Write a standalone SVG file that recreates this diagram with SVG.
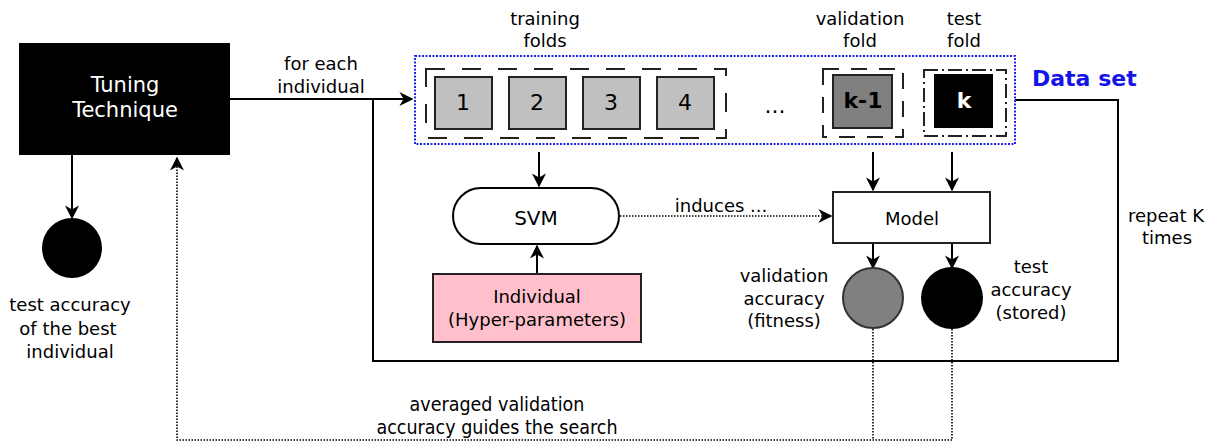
<svg xmlns="http://www.w3.org/2000/svg" width="1217" height="445" viewBox="0 0 1217 445">
<style>
text{font-family:"DejaVu Sans","Liberation Sans",sans-serif;font-size:18px;fill:#000;text-anchor:middle}
.w{fill:#fff}
.big{font-size:20px}
.tt{font-size:21px}
.dig{font-size:22px}
.b{font-weight:bold}
.cond{font-family:"DejaVu Sans Condensed","DejaVu Sans",sans-serif;font-size:19.5px}
.ln{fill:none;stroke:#000;stroke-width:2}
.dot{fill:none;stroke:#000;stroke-width:1.6;stroke-dasharray:1.5 1.5}
.fold{fill:#c0c0c0;stroke:#222;stroke-width:2}
.dash{fill:none;stroke:#222;stroke-width:2;stroke-dasharray:19 17}
</style>
<defs>
<marker id="ahb" viewBox="0 0 10 10" refX="9" refY="5" markerWidth="14" markerHeight="14" markerUnits="userSpaceOnUse" orient="auto">
<path d="M0,0 L10,5 L0,10 L3,5 z" fill="#000"/>
</marker>
</defs>
<rect width="1217" height="445" fill="#fff"/>

<g id="connectors">
<path class="ln" d="M230,99 H412" marker-end="url(#ahb)"/>
<path class="ln" d="M373,99 V361 H1118 V100 H1015"/>
<path class="ln" d="M72,155 V218" marker-end="url(#ahb)"/>
<path class="ln" d="M539,152 V186" marker-end="url(#ahb)"/>
<path class="ln" d="M537,274 V246" marker-end="url(#ahb)"/>
<path class="dot" d="M620,216 H831" marker-end="url(#ahb)"/>
<path class="ln" d="M873,152 V190" marker-end="url(#ahb)"/>
<path class="ln" d="M952,152 V190" marker-end="url(#ahb)"/>
<path class="ln" d="M873,243 V268" marker-end="url(#ahb)"/>
<path class="ln" d="M952,243 V268" marker-end="url(#ahb)"/>
<path class="dot" d="M873,329 V440 M952,329 V440 H177 V158" marker-end="url(#ahb)"/>
</g>

<g id="tuning">
<rect x="19" y="43" width="211" height="112" fill="#000"/>
<text class="tt w" x="125" y="92">Tuning</text>
<text class="tt w" x="125" y="117">Technique</text>
</g>
<text x="321" y="70">for each</text>
<text x="321" y="93">individual</text>

<g id="best">
<circle cx="72" cy="248" r="30" fill="#000"/>
<text x="70" y="311">test accuracy</text>
<text x="68" y="335">of the best</text>
<text x="70" y="358">individual</text>
</g>

<g id="dataset">
<rect x="415" y="56" width="600" height="88" fill="none" stroke="#2222ee" stroke-width="2" stroke-dasharray="2 1.5"/>
<text class="b" x="1032" y="86" style="text-anchor:start;font-size:22px;fill:#1414e6">Data set</text>
<text x="545" y="25">training</text>
<text x="545" y="47">folds</text>
<text x="860" y="25">validation</text>
<text x="860" y="47">fold</text>
<text x="964" y="25">test</text>
<text x="964" y="47">fold</text>
<rect class="dash" x="426" y="69" width="300" height="69"/>
<rect class="fold" x="435" y="77" width="57" height="52"/>
<rect class="fold" x="509" y="77" width="57" height="52"/>
<rect class="fold" x="583" y="77" width="57" height="52"/>
<rect class="fold" x="657" y="77" width="57" height="52"/>
<text class="dig" x="463" y="110">1</text>
<text class="dig" x="537" y="110">2</text>
<text class="dig" x="611" y="110">3</text>
<text class="dig" x="685" y="110">4</text>
<text class="dig" x="775" y="113">...</text>
<rect x="823" y="69" width="80" height="68" fill="none" stroke="#222" stroke-width="2" stroke-dasharray="16 12"/>
<rect x="833" y="75" width="59" height="53" fill="#808080" stroke="#222" stroke-width="2"/>
<text class="dig b" x="863" y="108">k-1</text>
<rect x="924" y="70" width="82" height="66" fill="none" stroke="#222" stroke-width="2" stroke-dasharray="14 4 2 4"/>
<rect x="934" y="74" width="59" height="54" fill="#000"/>
<text class="dig b w" x="964" y="108">k</text>
</g>

<g id="svm">
<rect x="453" y="188" width="166" height="56" rx="28" fill="#fff" stroke="#000" stroke-width="2"/>
<text class="big" x="536" y="225">SVM</text>
</g>

<g id="individual">
<rect x="433" y="274" width="208" height="68" fill="#ffc0cb" stroke="#222" stroke-width="2"/>
<text x="537" y="303">Individual</text>
<text x="537" y="326">(Hyper-parameters)</text>
</g>

<text x="721" y="212">induces ...</text>

<g id="model">
<rect x="833" y="192" width="157" height="51" fill="#fff" stroke="#222" stroke-width="2"/>
<text x="912" y="225">Model</text>
</g>

<g id="valacc">
<circle cx="873" cy="298" r="30" fill="#808080" stroke="#333" stroke-width="2"/>
<text x="784" y="282">validation</text>
<text x="784" y="305">accuracy</text>
<text x="784" y="327">(fitness)</text>
</g>

<g id="testacc">
<circle cx="952" cy="298" r="31" fill="#000"/>
<text x="1031" y="273">test</text>
<text x="1031" y="296">accuracy</text>
<text x="1031" y="319">(stored)</text>
</g>

<text x="1166" y="222">repeat K</text>
<text x="1167" y="244">times</text>
<text class="cond" x="497" y="411">averaged validation</text>
<text class="cond" x="497" y="434">accuracy guides the search</text>
</svg>
